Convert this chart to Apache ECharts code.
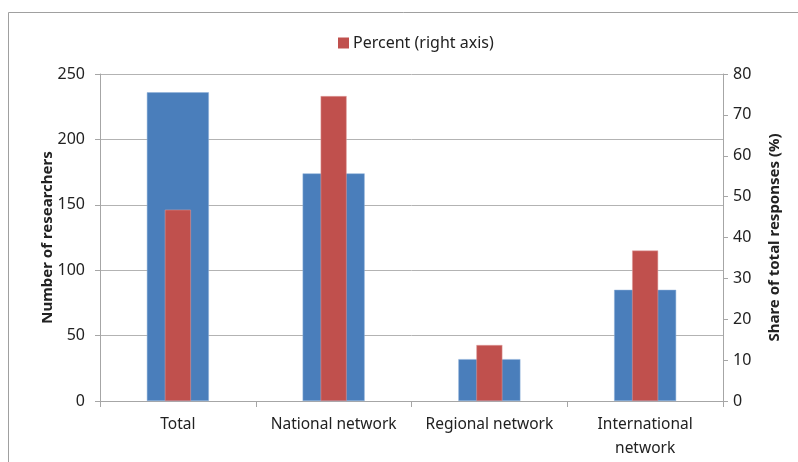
<!DOCTYPE html>
<html>
<head>
<meta charset="utf-8">
<script src="https://cdn.jsdelivr.net/npm/echarts@6/dist/echarts.min.js"></script>
<style>
html,body{margin:0;padding:0;background:#fff;}
#c{width:798px;height:462px;}
</style>
</head>
<body>
<div id="c"></div>
<script>
var categories = ['Total', 'National network', 'Regional network', 'International\nnetwork'];
var researchers = [236, 174, 32, 85];
var percent = [46.8, 74.6, 13.7, 36.8];
var leftTicks = [0, 50, 100, 150, 200, 250];
var rightTicks = [0, 10, 20, 30, 40, 50, 60, 70, 80];

var FONT = 'Noto Sans';
var chart = echarts.init(document.getElementById('c'), null, {renderer: 'canvas'});
var axisGray = '#A6A6A6';
var option = {
  animation: false,
  backgroundColor: '#fff',
  textStyle: {fontFamily: FONT},
  graphic: [{
    type: 'rect', shape: {x: 8.5, y: 12.5, width: 800, height: 460},
    style: {fill: 'none', stroke: '#A0A0A0', lineWidth: 1}, silent: true
  }],
  legend: {
    data: ['Percent (right axis)'],
    top: 30, left: 333,
    itemWidth: 11, itemHeight: 11, itemGap: 4,
    icon: 'rect',
    itemStyle: {borderWidth: 0},
    textStyle: {fontFamily: FONT, fontSize: 16, color: '#222', padding: [0, 0, 0, -1]}
  },
  grid: {left: 100, right: 75, top: 74, bottom: 61, containLabel: false},
  xAxis: [{
    type: 'category', data: categories, gridIndex: 0,
    axisLine: {lineStyle: {color: axisGray, width: 1}},
    axisTick: {show: true, length: 6, interval: 0, lineStyle: {color: axisGray}},
    axisLabel: {fontFamily: FONT, fontSize: 15.5, color: '#222', margin: 12, lineHeight: 24,
      interval: 0, hideOverlap: false}
  }, {
    type: 'category', data: categories, gridIndex: 0, show: false
  }],
  yAxis: [{
    type: 'value', min: 0, max: 250, interval: 50,
    name: 'Number of researchers', nameLocation: 'middle', nameGap: 45,
    nameMoveOverlap: false,
    nameTextStyle: {fontFamily: FONT, fontSize: 15, fontWeight: 'bold', color: '#222'},
    axisLine: {show: true, lineStyle: {color: axisGray}},
    axisTick: {show: true, length: 5, lineStyle: {color: axisGray}},
    axisLabel: {fontFamily: FONT, fontSize: 16, color: '#222', margin: 15,
      formatter: function(v){ return leftTicks.indexOf(v) >= 0 ? String(v) : ''; }},
    splitLine: {show: true, lineStyle: {color: '#B3B3B3', width: 1}}
  }, {
    type: 'value', min: 0, max: 80, interval: 10, position: 'right',
    name: 'Share of total responses (%)', nameLocation: 'middle', nameGap: 44,
    nameTextStyle: {fontFamily: FONT, fontSize: 15, fontWeight: 'bold', color: '#222'},
    axisLine: {show: true, lineStyle: {color: axisGray}},
    axisTick: {show: true, length: 5, lineStyle: {color: axisGray}},
    axisLabel: {fontFamily: FONT, fontSize: 16, color: '#222', margin: 10,
      formatter: function(v){ return rightTicks.indexOf(v) >= 0 ? String(v) : ''; }},
    splitLine: {show: false}
  }],
  series: [{
    name: 'Number of researchers', type: 'bar', xAxisIndex: 0, yAxisIndex: 0,
    data: researchers, barWidth: 62,
    itemStyle: {color: '#4A7EBB', borderColor: '#8EB0DB', borderWidth: 0.5}
  }, {
    name: 'Percent (right axis)', type: 'bar', xAxisIndex: 1, yAxisIndex: 1,
    data: percent, barWidth: 26,
    itemStyle: {color: '#C0504D', borderColor: '#E0A0A0', borderWidth: 0.5}
  }]
};
chart.setOption(option);
</script>
</body>
</html>
